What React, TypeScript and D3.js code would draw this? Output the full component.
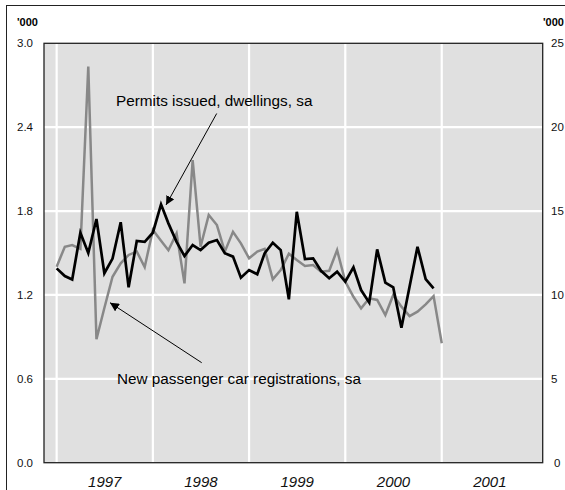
import React from "react";
import * as d3 from "d3";

const years = [1997, 1998, 1999, 2000, 2001];
const leftTicks = [0, 0.6, 1.2, 1.8, 2.4, 3.0];
const rightTicks = [0, 5, 10, 15, 20, 25];

// Monthly values from Jan 1997, '000
const permits = [
  1.39, 1.335, 1.31, 1.645, 1.5, 1.743, 1.355, 1.46, 1.72, 1.255, 1.586, 1.58,
  1.645, 1.848, 1.712, 1.58, 1.478, 1.557, 1.521, 1.574, 1.593, 1.498, 1.474, 1.323,
  1.378, 1.348, 1.498, 1.574, 1.521, 1.169, 1.795, 1.457, 1.462, 1.373, 1.319, 1.366,
  1.295, 1.398, 1.235, 1.145, 1.526, 1.288, 1.254, 0.966, 1.26, 1.545, 1.314, 1.247,
];
const cars = [
  1.402, 1.545, 1.557, 1.53, 2.833, 0.883, 1.107, 1.33, 1.426, 1.486, 1.51, 1.4,
  1.665, 1.588, 1.52, 1.64, 1.283, 2.165, 1.545, 1.772, 1.7, 1.51, 1.652, 1.569,
  1.462, 1.51, 1.529, 1.312, 1.378, 1.495, 1.45, 1.407, 1.414, 1.366, 1.373, 1.521,
  1.295, 1.187, 1.104, 1.176, 1.164, 1.056, 1.2, 1.116, 1.049, 1.08, 1.133, 1.192,
  0.854,
];

const W = 565;
const H = 490;
const plot = { left: 44, top: 43.3, right: 542.7, bottom: 462.7 };
const FONT = "'Liberation Sans', Arial, Helvetica, sans-serif";

export default function App() {
  const x = d3
    .scaleTime()
    .domain([new Date(1996, 10, 14), new Date(2002, 0, 19)])
    .range([plot.left, plot.right]);
  const yL = d3.scaleLinear().domain([0, 3]).range([plot.bottom, plot.top]);
  const yR = d3.scaleLinear().domain([0, 25]).range([plot.bottom, plot.top]);
  const month = (i: number) => new Date(1997, i, 1);

  const line = d3
    .line<number>()
    .x((_, i) => x(month(i)))
    .y((d) => yL(d));

  const yearMid = (yr: number) =>
    (x(new Date(yr, 0, 1)) + x(new Date(yr + 1, 0, 1))) / 2;

  return (
    <svg
      width={W}
      height={H}
      style={{ position: "absolute", left: 0, top: 0, background: "#fff" }}
      fontFamily={FONT}
    >
      <defs>
        <marker
          id="arr"
          viewBox="0 0 10 10"
          refX="10"
          refY="5"
          markerWidth="9"
          markerHeight="9"
          orient="auto-start-reverse"
          markerUnits="userSpaceOnUse"
        >
          <path d="M0,0 L10,5 L0,10 z" fill="#000" />
        </marker>
      </defs>
      <rect x={6.5} y={5.5} width={W + 10} height={H + 10} fill="none" stroke="#222" strokeWidth={1} />

      <rect
        x={plot.left}
        y={plot.top}
        width={plot.right - plot.left}
        height={plot.bottom - plot.top}
        fill="#e0e0e0"
      />
      {years.map((yr) => (
        <line
          key={yr}
          x1={x(new Date(yr, 0, 1))}
          x2={x(new Date(yr, 0, 1))}
          y1={plot.top}
          y2={plot.bottom}
          stroke="#fff"
          strokeWidth={2.2}
        />
      ))}
      {leftTicks.slice(1, -1).map((t) => (
        <line
          key={t}
          x1={plot.left}
          x2={plot.right}
          y1={yL(t)}
          y2={yL(t)}
          stroke="#fff"
          strokeWidth={2.2}
        />
      ))}

      <path d={line(cars) || ""} fill="none" stroke="#888" strokeWidth={2.5} strokeLinejoin="miter" />
      <path d={line(permits) || ""} fill="none" stroke="#000" strokeWidth={2.7} strokeLinejoin="miter" />

      <rect
        x={plot.left}
        y={plot.top}
        width={plot.right - plot.left}
        height={plot.bottom - plot.top}
        fill="none"
        stroke="#222"
        strokeWidth={1.3}
      />

      <text x={17} y={26} fontSize={11} fontWeight="bold">'000</text>
      <text x={543} y={26} fontSize={11} fontWeight="bold">'000</text>

      {leftTicks.map((t) => (
        <text key={t} x={17} y={yL(t) + 4} fontSize={11.5} fill="#111">
          {t.toFixed(1)}
        </text>
      ))}
      {rightTicks.map((t) => (
        <text key={t} x={t === 0 ? 554 : 551} y={yR(t) + 4} fontSize={11.5} fill="#111">
          {t}
        </text>
      ))}
      {years.map((yr) => (
        <text
          key={yr}
          x={yearMid(yr)}
          y={486.5}
          fontSize={15}
          fontStyle="italic"
          textAnchor="middle"
          fill="#111"
        >
          {yr}
        </text>
      ))}

      <text x={116} y={106} fontSize={15.3} fill="#000">Permits issued, dwellings, sa</text>
      <line x1={216.7} y1={113.5} x2={166} y2={205} stroke="#000" strokeWidth={1} markerEnd="url(#arr)" />

      <text x={117} y={383.5} fontSize={15.3} fill="#000">New passenger car registrations, sa</text>
      <line x1={201.7} y1={362.7} x2={110} y2={302.7} stroke="#000" strokeWidth={1} markerEnd="url(#arr)" />
    </svg>
  );
}
